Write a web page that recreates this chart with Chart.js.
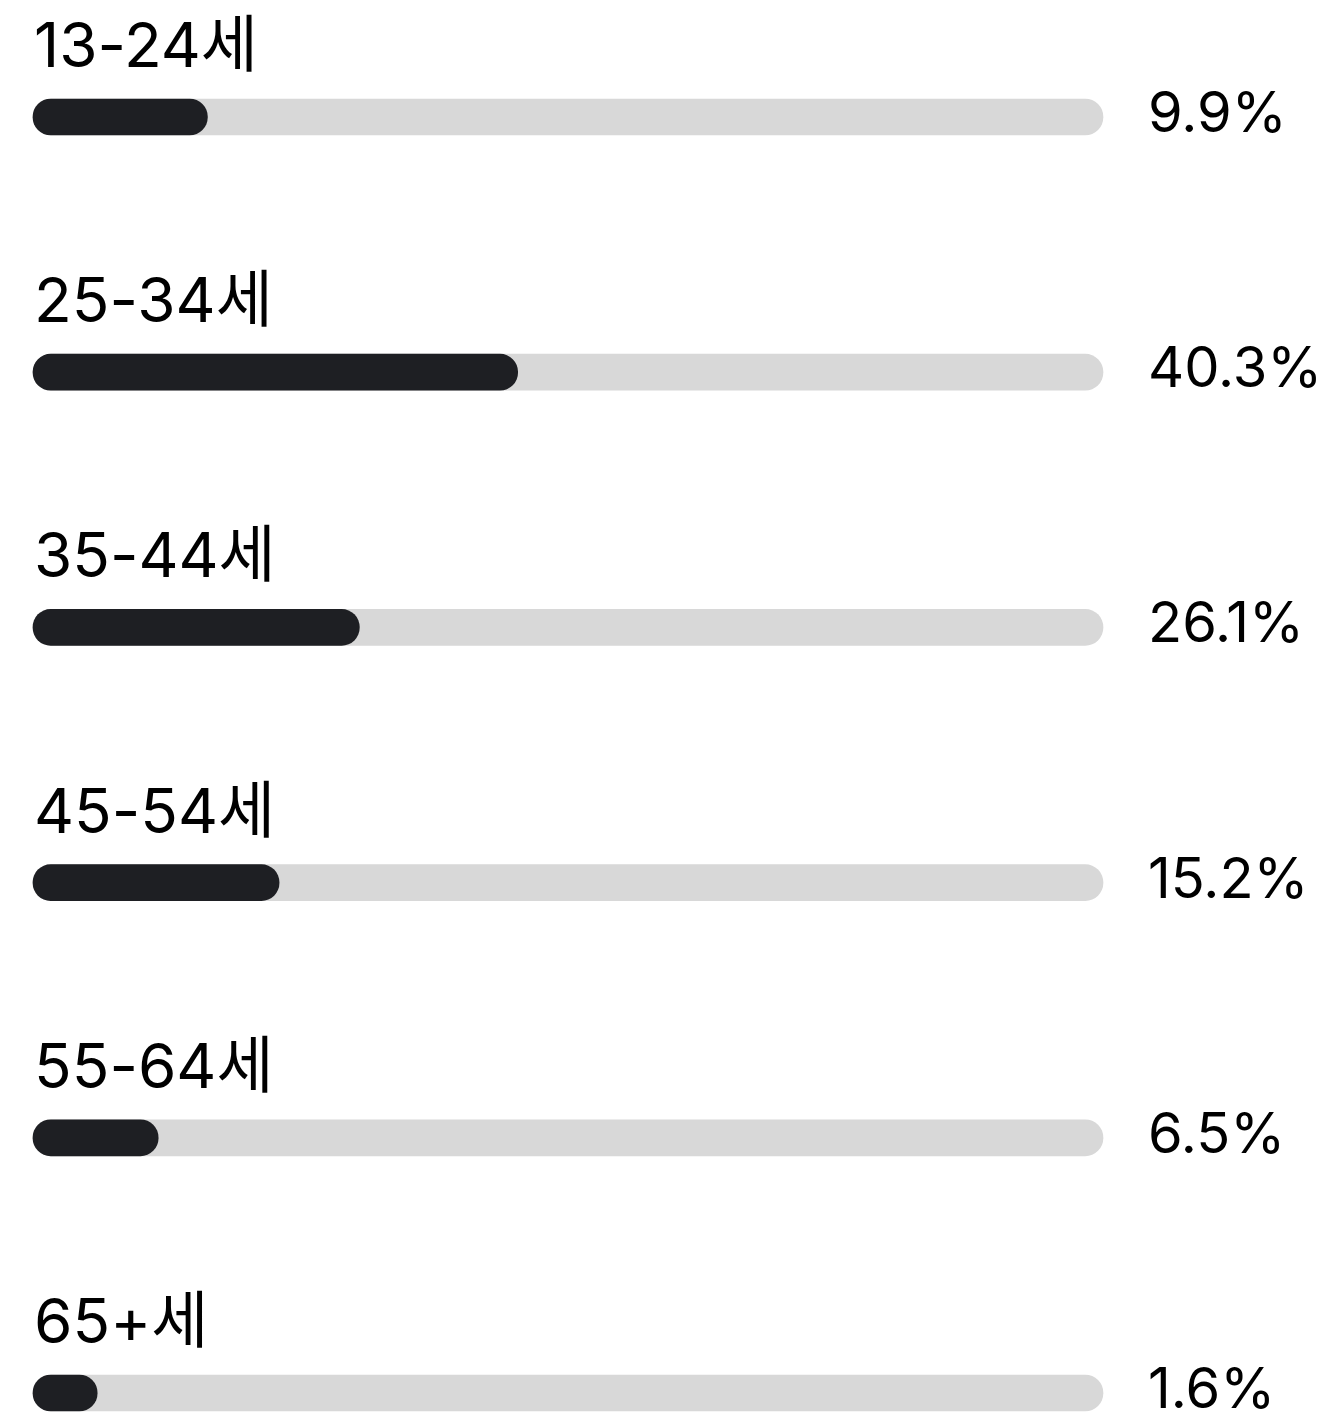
<!DOCTYPE html>
<html>
<head>
<meta charset="utf-8">
<script src="https://cdn.jsdelivr.net/npm/chart.js@4/dist/chart.umd.min.js"></script>
<style>
  body { margin: 0; background: #fff; }
  #wrap { width: 1327px; height: 1412px; }
</style>
</head>
<body>
<div id="wrap"><canvas id="ageChart"></canvas></div>
<script>
const ageGroups = ['13-24세', '25-34세', '35-44세', '45-54세', '55-64세', '65+세'];
const shareLabels = ['9.9%', '40.3%', '26.1%', '15.2%', '6.5%', '1.6%'];
// bar fill (share of the grey track)
const fillLevels = [16.3, 45.3, 30.5, 23.0, 11.7, 6.0];
const trackLevels = [100, 100, 100, 100, 100, 100];

const FONT = 'Inter, "Noto Sans CJK KR", sans-serif';

// labels above each bar + percentage at the right
const rowText = {
  id: 'rowText',
  afterDatasetsDraw(chart) {
    const ctx = chart.ctx;
    const yScale = chart.scales.y;
    const left = chart.chartArea.left;
    ctx.save();
    ctx.fillStyle = '#000';
    ctx.textAlign = 'left';
    ctx.textBaseline = 'alphabetic';
    ageGroups.forEach((g, i) => {
      const y = yScale.getPixelForValue(i);
      ctx.font = '62px ' + FONT;
      ctx.fillText(g, left + 1, y - 50);
      ctx.font = '56px ' + FONT;
      ctx.fillText(shareLabels[i], 1148, y + 15);
    });
    ctx.restore();
  }
};

const data = {
  labels: ageGroups,
  datasets: [
    {
      data: fillLevels,
      backgroundColor: '#1e1f23',
      order: 0
    },
    {
      data: trackLevels,
      backgroundColor: '#d8d8d8',
      order: 1
    }
  ]
};

const config = {
  type: 'bar',
  data: data,
  options: {
    indexAxis: 'y',
    responsive: true,
    maintainAspectRatio: false,
    animation: false,
    layout: {
      padding: { left: 33, right: 224, top: 117, bottom: 19 }
    },
    datasets: {
      bar: {
        grouped: false,
        barThickness: 36,
        borderRadius: 18,
        borderSkipped: false,
        clip: false
      }
    },
    scales: {
      x: { min: 0, max: 100, display: false },
      y: { display: false, offset: false }
    },
    plugins: {
      legend: { display: false },
      tooltip: { enabled: false }
    }
  },
  plugins: [rowText]
};

var myChart = new Chart(
  document.getElementById('ageChart'),
  config
);
</script>
</body>
</html>
